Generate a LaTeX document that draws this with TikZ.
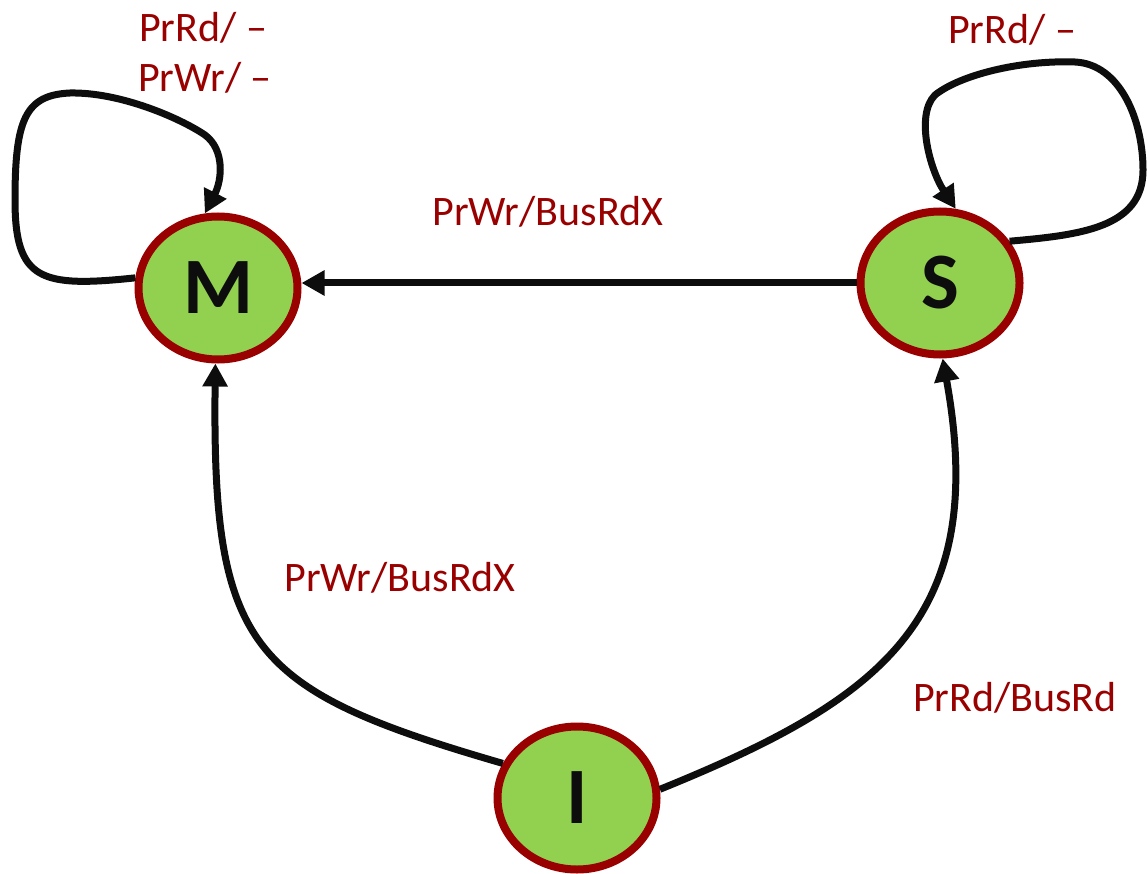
\documentclass[tikz,border=0pt]{standalone}
\usepackage{fontspec}
\setmainfont{Carlito}
\usetikzlibrary{arrows.meta,shapes.geometric}
\definecolor{stategreen}{HTML}{92D050}
\definecolor{statered}{HTML}{990000}
\definecolor{inkblack}{HTML}{0D0D0D}
\begin{document}
\begin{tikzpicture}[x=1pt,y=-1pt,
  state/.style={ellipse,draw=statered,fill=stategreen,line width=8pt,
    minimum width=159pt,minimum height=143pt,inner sep=0pt,
    font=\fontsize{80}{80}\selectfont\bfseries,text=inkblack},
  trans/.style={draw=inkblack,line width=7pt,
    -{Triangle[length=23pt,width=24pt]}},
  lbl/.style={text=statered,font=\fontsize{42}{44}\selectfont,inner sep=0pt}]
\useasboundingbox (0,0) rectangle (1147,874);

% states
\node[state] (M) at (218,288) {M};
\node[state] (S) at (940,283) {S};
\node[state] (I) at (577,798) {I};

% self loops
\draw[trans] (M.173) .. controls (40,288) and (15,280) .. (15,200)
  .. controls (15,120) and (25,95) .. (70,93)
  .. controls (120,92) and (180,118) .. (205,135)
  .. controls (225,150) and (222,180) .. (M.100);
\draw[trans] (S.31) .. controls (1080,235) and (1143,228) .. (1143,170)
  .. controls (1143,120) and (1120,64) .. (1075,62)
  .. controls (1020,60) and (960,75) .. (935,95)
  .. controls (915,115) and (930,170) .. (S.78);

% transitions between states
\draw[trans] (S.west) -- (M.east |- S.west);
\draw[trans] (I.155) .. controls (250,690) and (212,650) .. (M.268);
\draw[trans] (I.6) .. controls (880,700) and (990,620) .. (S.272);

% labels
\node[lbl] (lm1) at (203,28) {PrRd/ –};
\node[lbl] (lm2) at (205,78) {PrWr/ –};
\node[lbl] (ls1) at (1012,30) {PrRd/ –};
\node[lbl] (lms) at (548,212) {PrWr/BusRdX};
\node[lbl] (lim) at (400,578) {PrWr/BusRdX};
\node[lbl] (lis) at (1015,698) {PrRd/BusRd};
\end{tikzpicture}
\end{document}
